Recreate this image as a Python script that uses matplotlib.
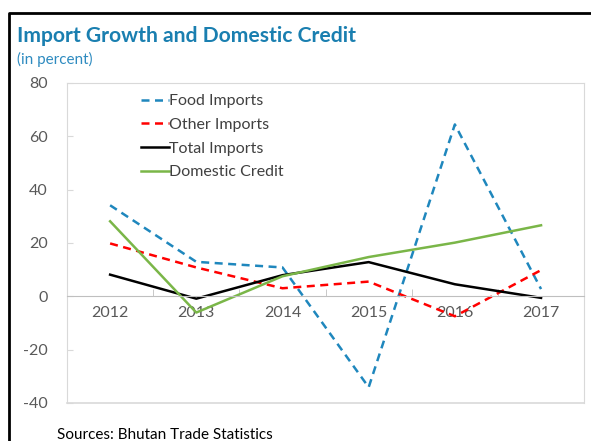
import numpy as np
import matplotlib.pyplot as plt

plt.rcParams['font.family'] = ['Lato', 'DejaVu Sans']
plt.rcParams['axes.unicode_minus'] = False

# growth rates, in percent
years = ['2012', '2013', '2014', '2015', '2016', '2017']
food_imports = [34.1, 12.9, 10.8, -34.1, 64.4, 2.7]
other_imports = [19.8, 10.8, 3.0, 5.5, -7.5, 9.8]
total_imports = [8.1, -0.9, 7.9, 12.8, 4.5, -0.6]
domestic_credit = [28.1, -6.1, 7.5, 14.7, 20.1, 26.6]

grey = '#595959'
frame = '#d9d9d9'

fig = plt.figure(figsize=(5.91, 4.41), dpi=100)
ax = fig.add_axes([0.1134, 0.0862, 0.875, 0.726])

x = np.arange(len(years))
ax.plot(x, food_imports, color='#1f87bd', lw=1.8, ls=(0, (3.2, 2.2)), label='Food Imports')
ax.plot(x, other_imports, color='#ff0000', lw=1.8, ls=(0, (3.2, 2.2)), label='Other Imports')
ax.plot(x, total_imports, color='black', lw=1.8, label='Total Imports')
ax.plot(x, domestic_credit, color='#7ab648', lw=1.8, label='Domestic Credit')

ax.set_xlim(-0.5, len(years) - 0.5)
ax.set_ylim(-40, 80)
ax.set_yticks(np.arange(-40, 81, 20))
ax.tick_params(axis='y', direction='in', length=4, color=frame, labelcolor=grey,
               labelsize=11.5, pad=14)

# category axis sits on the zero line
ax.spines['bottom'].set_position(('data', 0))
ax.spines['bottom'].set_color('#bfbfbf')
ax.set_xticks(x)
ax.set_xticklabels(years)
ax.set_xticks(x[:-1] + 0.5, minor=True)
ax.tick_params(axis='x', which='major', length=0, labelcolor=grey, labelsize=11.5, pad=7)
ax.tick_params(axis='x', which='minor', direction='in', length=5, color='#bfbfbf')
for side in ['left', 'right', 'top']:
    ax.spines[side].set_color(frame)
ax.plot([0, 1], [0, 0], transform=ax.transAxes, color=frame, lw=1.2, clip_on=False)

leg = ax.legend(loc='upper left', bbox_to_anchor=(0.125, 0.995), frameon=False,
                fontsize=11.5, handlelength=1.75, handletextpad=0.0, labelspacing=0.6,
                borderaxespad=0.2)
for t in leg.get_texts():
    t.set_color('#404040')

fig.text(0.029, 0.905, 'Import Growth and Domestic Credit', fontsize=15.2,
         fontweight='bold', color='#1a7fb0')
fig.text(0.029, 0.855, '(in percent)', fontsize=11, color='#2e8bc0')
fig.text(0.097, 0.005, 'Sources: Bhutan Trade Statistics', fontsize=11, color='black')

# black border on top and left of the panel
fig.add_artist(plt.Line2D([0.015, 0.015, 1.0], [0.0, 0.97, 0.97],
                          transform=fig.transFigure, color='black', lw=2))

fig.savefig('out.png', dpi=100)
